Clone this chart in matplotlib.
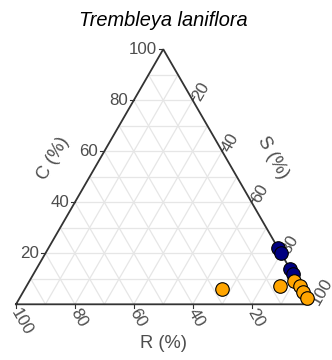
import numpy as np
import matplotlib
matplotlib.use("Agg")
import matplotlib.pyplot as plt

plt.rcParams['font.family'] = ['Liberation Sans', 'DejaVu Sans']

# CSR strategy shares (%) per specimen
group_a_C = [22, 20, 14, 12]
group_a_S = [78, 80, 86, 88]
group_a_R = [0, 0, 0, 0]

group_b_C = [6, 7, 9, 7, 5, 2.5]
group_b_S = [67, 86, 90, 93, 95, 97.5]
group_b_R = [27, 7, 1, 0, 0, 0]

tick_values = [20, 40, 60, 80, 100]
title = "Trembleya laniflora"

H = np.sqrt(3) / 2


def to_xy(c, s, r):
    c = np.asarray(c, float); s = np.asarray(s, float); r = np.asarray(r, float)
    tot = c + s + r
    c, s = c / tot, s / tot
    return s + c / 2, c * H


W, Hpx, dpi = 332, 360, 100
fig = plt.figure(figsize=(W / dpi, Hpx / dpi), dpi=dpi)
ax = fig.add_axes([0, 0, 1, 1])
scale = 294.5
x0, ybase = 16, 304.3
ax.set_xlim(-x0 / scale, (W - x0) / scale)
ax.set_ylim((ybase - Hpx) / scale, ybase / scale)
ax.axis('off')

grid_col = '#E6E6E6'
for v in np.arange(0.1, 1.0, 0.1):
    # constant C
    ax.plot([v / 2, 1 - v / 2], [v * H, v * H], color=grid_col, lw=0.9, zorder=1)
    # constant S
    xa, ya = to_xy(0, v, 1 - v)
    xb, yb = to_xy(1 - v, v, 0)
    ax.plot([xa, xb], [ya, yb], color=grid_col, lw=0.9, zorder=1)
    # constant R
    xa, ya = to_xy(0, 1 - v, v)
    xb, yb = to_xy(1 - v, 0, v)
    ax.plot([xa, xb], [ya, yb], color=grid_col, lw=0.9, zorder=1)

# triangle outline
ax.plot([0, 1, 0.5, 0], [0, 0, H, 0], color='#333333', lw=1.3, zorder=2,
        solid_joinstyle='miter')

lab_col = '#4D4D4D'
fs = 12.2
tl = 4 / scale
for t in tick_values:
    v = t / 100
    # C axis (left edge)
    xe, ye = v / 2, v * H
    ax.plot([xe, xe - tl], [ye, ye], color='#333333', lw=0.8, zorder=2)
    ax.text(xe - 6 / scale, ye, f"{t}", ha='right', va='center', fontsize=fs,
            color=lab_col)
    # R axis (bottom edge)
    xe, ye = 1 - v, 0
    ax.plot([xe, xe], [ye, ye - tl], color='#333333', lw=0.8, zorder=2)
    ax.text(xe - 1 / scale, ye - 5 / scale, f"{t}", rotation=-60,
            rotation_mode='anchor', ha='left', va='center', fontsize=fs,
            color=lab_col)
    # S axis (right edge)
    xe, ye = 0.5 + v / 2, (1 - v) * H
    ax.plot([xe, xe + tl * 0.5], [ye, ye + tl * H], color='#333333', lw=0.8,
            zorder=2)
    ax.text(xe + 4 / scale, ye + 1 / scale, f"{t}", rotation=60,
            rotation_mode='anchor', ha='left', va='center', fontsize=fs,
            color=lab_col)


def px(xp, yp):
    return (xp - x0) / scale, (ybase - yp) / scale


fs_title = 13.2
ax.text(*px(163.5, 343), "R (%)", ha='center', va='center', fontsize=fs_title,
        color=lab_col)
ax.text(*px(53, 158), "C (%)", ha='center', va='center', fontsize=fs_title,
        color=lab_col, rotation=60)
ax.text(*px(273, 158), "S (%)", ha='center', va='center', fontsize=fs_title,
        color=lab_col, rotation=-60)
ax.text(*px(163.5, 20), title, ha='center', va='center', fontsize=14.4,
        style='italic', color='black')

xa, ya = to_xy(group_a_C, group_a_S, group_a_R)
ax.scatter(xa, ya, s=95, c='#000080', edgecolors='black', linewidths=0.8,
           zorder=3, clip_on=False)
xb, yb = to_xy(group_b_C, group_b_S, group_b_R)
ax.scatter(xb, yb, s=95, c='#FFA500', edgecolors='black', linewidths=0.8,
           zorder=4, clip_on=False)

fig.savefig("out.png", dpi=dpi)
